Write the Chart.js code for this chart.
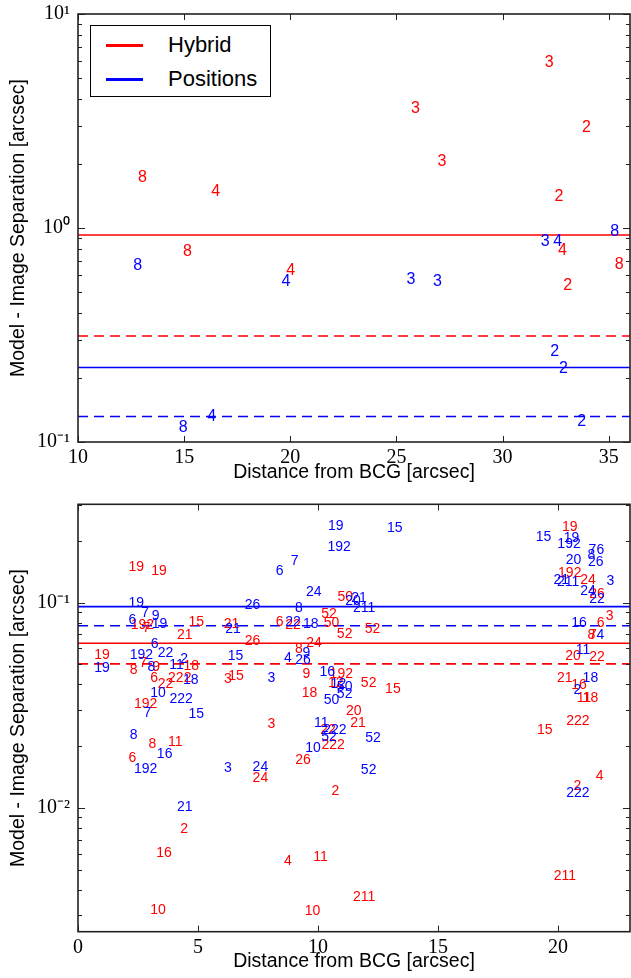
<!DOCTYPE html>
<html>
<head>
<meta charset="utf-8">
<script src="https://cdn.jsdelivr.net/npm/chart.js@4.4.0/dist/chart.umd.min.js"></script>
<style>
  html, body { margin:0; padding:0; background:#fff; }
  #wrap { position:relative; width:631px; height:978px; overflow:hidden; }
  canvas { position:absolute; left:0; }
  #c1 { top:0; }
  #c2 { top:490px; }
  .legend { position:absolute; left:90px; top:25px; width:179px; height:70px; border:1px solid #000; background:#fff;
            font-family:"Liberation Sans", Arial, sans-serif; font-size:22px; color:#000; }
  .legend .row { position:absolute; left:0; height:26px; line-height:26px; }
  .legend .sw { position:absolute; left:15px; top:12px; width:37px; height:2.5px; }
  .legend .tx { position:absolute; left:77px; top:0; white-space:nowrap; }
</style>
</head>
<body>
<div id="wrap">
  <canvas id="c1" width="631" height="490"></canvas>
  <canvas id="c2" width="631" height="488"></canvas>
  <div class="legend">
    <div class="row" style="top:6px"><div class="sw" style="background:#ff0000"></div><div class="tx" id="lg0"></div></div>
    <div class="row" style="top:40px"><div class="sw" style="background:#0000ff"></div><div class="tx" id="lg1"></div></div>
  </div>
</div>
<script>
// ---- top panel (Distance 10-36 arcsec) ----
const topHybridX   = [32.2, 25.9, 33.95, 27.14, 13.04, 16.49, 32.65, 15.16, 32.82, 20.02, 35.49, 33.06];
const topHybridY   = [6.01, 3.65, 2.98, 2.07, 1.75, 1.50, 1.42, 0.785, 0.794, 0.64, 0.683, 0.545];
const topHybridLbl = ['3','3','2','3','8','4','2','8','4','4','8','2'];

const topPosX   = [35.28, 32.0, 32.6, 12.81, 19.79, 25.68, 26.93, 32.45, 32.87, 16.30, 14.95, 33.73];
const topPosY   = [0.975, 0.875, 0.875, 0.676, 0.567, 0.581, 0.568, 0.267, 0.223, 0.133, 0.1186, 0.127];
const topPosLbl = ['8','3','4','8','4','3','3','2','2','4','8','2'];

const topHybridLines = [0.927, 0.313];   // solid, dashed
const topPosLines    = [0.223, 0.1315];
const topXTicks = [10, 15, 20, 25, 30, 35];
const topYTicks = [0.1, 1, 10];

// ---- bottom panel (Distance 0-23 arcsec) ----
const botHybridX = [2.43, 3.38, 2.68, 2.85, 4.93, 4.45, 6.40, 7.27, 1.00, 2.32, 2.71, 3.26, 4.72, 3.17, 3.65, 4.24,
  6.58, 6.25, 2.82, 3.10, 4.05, 2.27, 7.60, 9.38, 10.63, 10.72, 4.42, 3.58, 8.75, 10.10, 11.92, 3.33, 9.77,
  11.14, 10.46, 8.40, 8.96, 10.56, 11.11, 12.27, 9.83, 9.20, 9.52, 10.97, 10.74, 12.11, 13.12, 9.65, 11.49,
  11.67, 10.42, 8.06, 20.49, 20.49, 21.25, 21.63, 22.15, 21.78, 21.39, 21.45, 20.63, 21.63, 20.28, 20.88,
  21.08, 21.35, 20.83, 19.45, 21.74, 20.81, 20.29];
const botHybridY = [0.151, 0.144, 0.0787, 0.0765, 0.0817, 0.0705, 0.0794, 0.0659, 0.0561, 0.0476, 0.0517, 0.049,
  0.0499, 0.0436, 0.0408, 0.0436, 0.0445, 0.0428, 0.0324, 0.0207, 0.0211, 0.0177, 0.0142, 0.0173, 0.0206,
  0.0123, 0.0080, 0.00608, 0.00556, 0.00586, 0.00374, 0.00324, 0.00318, 0.108, 0.0888, 0.0817, 0.0787,
  0.0809, 0.0715, 0.075, 0.0641, 0.0604, 0.0454, 0.0457, 0.0413, 0.041, 0.0384, 0.0367, 0.0301, 0.0261,
  0.0242, 0.0259, 0.2366, 0.1406, 0.130, 0.112, 0.0871, 0.0809, 0.0702, 0.0702, 0.0557, 0.0551, 0.0434,
  0.0401, 0.0347, 0.0347, 0.0269, 0.0242, 0.0145, 0.0130, 0.00474];
const botHybridLbl = ['19','19','192','7','15','21','21','26','19','8','7','9','18','6','22','222',
  '15','3','192','8','11','6','24','26','222','2','2','16','4','11','211','10','10',
  '50','52','6','22','50','52','52','24','8','9','192','12','52','15','18','20',
  '21','22','3','19','192','24','26','3','6','8','7','20','22','21','16',
  '11','18','222','15','4','2','211'];

const botPosX = [2.43, 2.80, 3.24, 2.27, 3.40, 6.46, 7.27, 3.19, 2.64, 3.65, 1.00, 3.06, 4.10, 4.42, 4.70, 6.56,
  3.33, 4.30, 2.89, 4.93, 2.32, 3.61, 2.82, 6.25, 7.60, 9.79, 12.11, 4.45, 10.74, 13.20, 10.88, 9.03, 8.40,
  9.82, 11.46, 11.71, 11.92, 9.20, 8.96, 9.70, 9.52, 8.75, 9.38, 8.06, 10.39, 10.85, 11.11, 11.11, 10.56,
  10.14, 10.70, 10.46, 12.29, 19.40, 20.56, 20.46, 21.43, 21.77, 21.39, 21.57, 20.65, 20.14, 20.42, 22.18,
  21.25, 21.63, 20.88, 21.77, 21.04, 21.35, 20.81, 20.83];
const botPosY = [0.101, 0.0904, 0.0871, 0.083, 0.080, 0.0755, 0.0982, 0.0636, 0.0561, 0.0574, 0.0485, 0.0494,
  0.0503, 0.0536, 0.0424, 0.0559, 0.0369, 0.0345, 0.0292, 0.029, 0.0229, 0.0186, 0.0157, 0.0158, 0.0161,
  0.0198, 0.0155, 0.0102, 0.240, 0.234, 0.189, 0.1615, 0.144, 0.114, 0.103, 0.106, 0.0956, 0.0956, 0.0817,
  0.0794, 0.0578, 0.0546, 0.0531, 0.0436, 0.0467, 0.0405, 0.0394, 0.0363, 0.034, 0.0261, 0.0242, 0.0225,
  0.0221, 0.211, 0.208, 0.1945, 0.182, 0.182, 0.172, 0.1595, 0.163, 0.130, 0.128, 0.129, 0.1153, 0.105,
  0.0809, 0.0702, 0.0593, 0.0434, 0.0379, 0.0120];
const botPosLbl = ['19','7','9','6','19','21','26','6','192','22','19','8','11','2','18','15',
  '10','222','7','15','8','16','192','3','24','10','52','21','19','15','192','7','6',
  '24','20','21','211','8','22','18','9','4','26','3','16','12','50','52','50',
  '11','222','52','52','15','19','192','7','6','8','26','20','21','211','3',
  '24','22','16','4','11','18','2','222'];

const botHybridLines = [0.0634, 0.0503];
const botPosLines    = [0.0956, 0.0772];
const botXTicks = [0, 5, 10, 15, 20];
const botYTicks = [0.01, 0.1];

const seriesNames = ['Hybrid', 'Positions'];
const RED = '#ff0000', BLUE = '#0000ff';
const SANS = '"Liberation Sans", Arial, sans-serif';
const SERIF = '"Liberation Serif", "Times New Roman", serif';

document.getElementById('lg0').textContent = seriesNames[0];
document.getElementById('lg1').textContent = seriesNames[1];

const expLabel = { '10': '10\u00B9', '1': '10\u2070', '0.1': '10\u207B\u00B9', '0.01': '10\u207B\u00B2' };

// numbers drawn as text at each point position
const textLabels = {
  id: 'textLabels',
  afterDatasetsDraw(chart, args, opts) {
    const ctx = chart.ctx;
    ctx.save();
    ctx.font = opts.size + 'px ' + SANS;
    ctx.textAlign = 'center';
    ctx.textBaseline = 'alphabetic';
    chart.data.datasets.forEach((ds, i) => {
      if (!ds.texts) return;
      ctx.fillStyle = ds.textColor;
      chart.getDatasetMeta(i).data.forEach((pt, j) => {
        ctx.fillText(ds.texts[j], pt.x, pt.y + opts.size * 0.36);
      });
    });
    ctx.restore();
  }
};

// box frame + inward ticks like matplotlib
const frameTicks = {
  id: 'frameTicks',
  afterDraw(chart) {
    const { ctx, chartArea: a, scales: { x, y } } = chart;
    ctx.save();
    ctx.strokeStyle = '#222';
    ctx.lineWidth = 1;
    const seg = (x1, y1, x2, y2) => { ctx.beginPath(); ctx.moveTo(x1, y1); ctx.lineTo(x2, y2); ctx.stroke(); };
    x.ticks.forEach(t => {
      const px = Math.round(x.getPixelForValue(t.value)) + 0.5;
      seg(px, a.bottom, px, a.bottom - 6);
      seg(px, a.top, px, a.top + 6);
    });
    y.ticks.forEach(t => {
      const py = Math.round(y.getPixelForValue(t.value)) + 0.5;
      seg(a.left, py, a.left + 7, py);
      seg(a.right, py, a.right - 7, py);
    });
    const d0 = Math.floor(Math.log10(y.min)), d1 = Math.ceil(Math.log10(y.max));
    for (let d = d0; d <= d1; d++) {
      for (let m = 2; m <= 9; m++) {
        const v = m * Math.pow(10, d);
        if (v <= y.min || v >= y.max) continue;
        const py = Math.round(y.getPixelForValue(v)) + 0.5;
        seg(a.left, py, a.left + 4, py);
        seg(a.right, py, a.right - 4, py);
      }
    }
    ctx.lineWidth = 1.6;
    ctx.strokeRect(a.left, a.top, a.right - a.left, a.bottom - a.top);
    ctx.restore();
  }
};

function hline(v, xmin, xmax, color, dashed) {
  return {
    data: [{ x: xmin, y: v }, { x: xmax, y: v }],
    showLine: true, borderColor: color, borderWidth: 1.6, pointRadius: 0,
    borderDash: dashed ? [10, 6] : []
  };
}
function textSet(xs, ys, lbls, color) {
  return { data: xs.map((v, i) => ({ x: v, y: ys[i] })), texts: lbls, textColor: color, pointRadius: 0, showLine: false };
}

function makeChart(id, o) {
  const datasets = [
    hline(o.hLines[0], o.xmin, o.xmax, RED, false),
    hline(o.hLines[1], o.xmin, o.xmax, RED, true),
    hline(o.pLines[0], o.xmin, o.xmax, BLUE, false),
    hline(o.pLines[1], o.xmin, o.xmax, BLUE, true),
    textSet(o.hx, o.hy, o.hl, RED),
    textSet(o.px, o.py, o.pl, BLUE)
  ];
  return new Chart(document.getElementById(id), {
    type: 'scatter',
    data: { datasets },
    plugins: [textLabels, frameTicks],
    options: {
      responsive: false, animation: false, events: [],
      layout: { padding: { top: o.padTop, right: 1, left: 0, bottom: 0 } },
      plugins: { legend: { display: false }, tooltip: { enabled: false }, textLabels: { size: o.fontSize } },
      scales: {
        x: {
          type: 'linear', min: o.xmin, max: o.xmax,
          afterBuildTicks: s => { s.ticks = o.xTicks.map(v => ({ value: v })); },
          afterFit: s => { s.height = o.xAxisH; s.paddingLeft = 0; s.paddingRight = 0; },
          grid: { display: false, drawTicks: false },
          border: { display: false },
          ticks: { color: '#000', padding: 4, font: { family: SERIF, size: 20 }, maxRotation: 0 },
          title: { display: true, text: 'Distance from BCG [arcsec]', color: '#000',
                   font: { family: SANS, size: 19.5 }, padding: { top: 0, bottom: o.titlePadB } }
        },
        y: {
          type: 'logarithmic', min: o.ymin, max: o.ymax,
          afterBuildTicks: s => { s.ticks = o.yTicks.map(v => ({ value: v })); },
          afterFit: s => { s.width = 78; s.paddingTop = 0; s.paddingBottom = 0; },
          grid: { display: false, drawTicks: false },
          border: { display: false },
          ticks: { color: '#000', padding: 8, font: { family: SERIF, size: 20 },
                   callback: v => expLabel[String(v)] || '' },
          title: { display: true, text: 'Model - Image Separation [arcsec]', color: '#000',
                   font: { family: SANS, size: 19.5 }, padding: { top: 7, bottom: 0 } }
        }
      }
    }
  });
}

makeChart('c1', {
  xmin: 10, xmax: 36, ymin: 0.1, ymax: 10, xTicks: topXTicks, yTicks: topYTicks,
  hx: topHybridX, hy: topHybridY, hl: topHybridLbl, px: topPosX, py: topPosY, pl: topPosLbl,
  hLines: topHybridLines, pLines: topPosLines, fontSize: 16,
  padTop: 14, xAxisH: 48, titlePadB: 6
});
makeChart('c2', {
  xmin: 0, xmax: 23, ymin: 0.0025, ymax: 0.301, xTicks: botXTicks, yTicks: botYTicks,
  hx: botHybridX, hy: botHybridY, hl: botHybridLbl, px: botPosX, py: botPosY, pl: botPosLbl,
  hLines: botHybridLines, pLines: botPosLines, fontSize: 14,
  padTop: 14.3, xAxisH: 46.3, titlePadB: 4.3
});
</script>
</body>
</html>
